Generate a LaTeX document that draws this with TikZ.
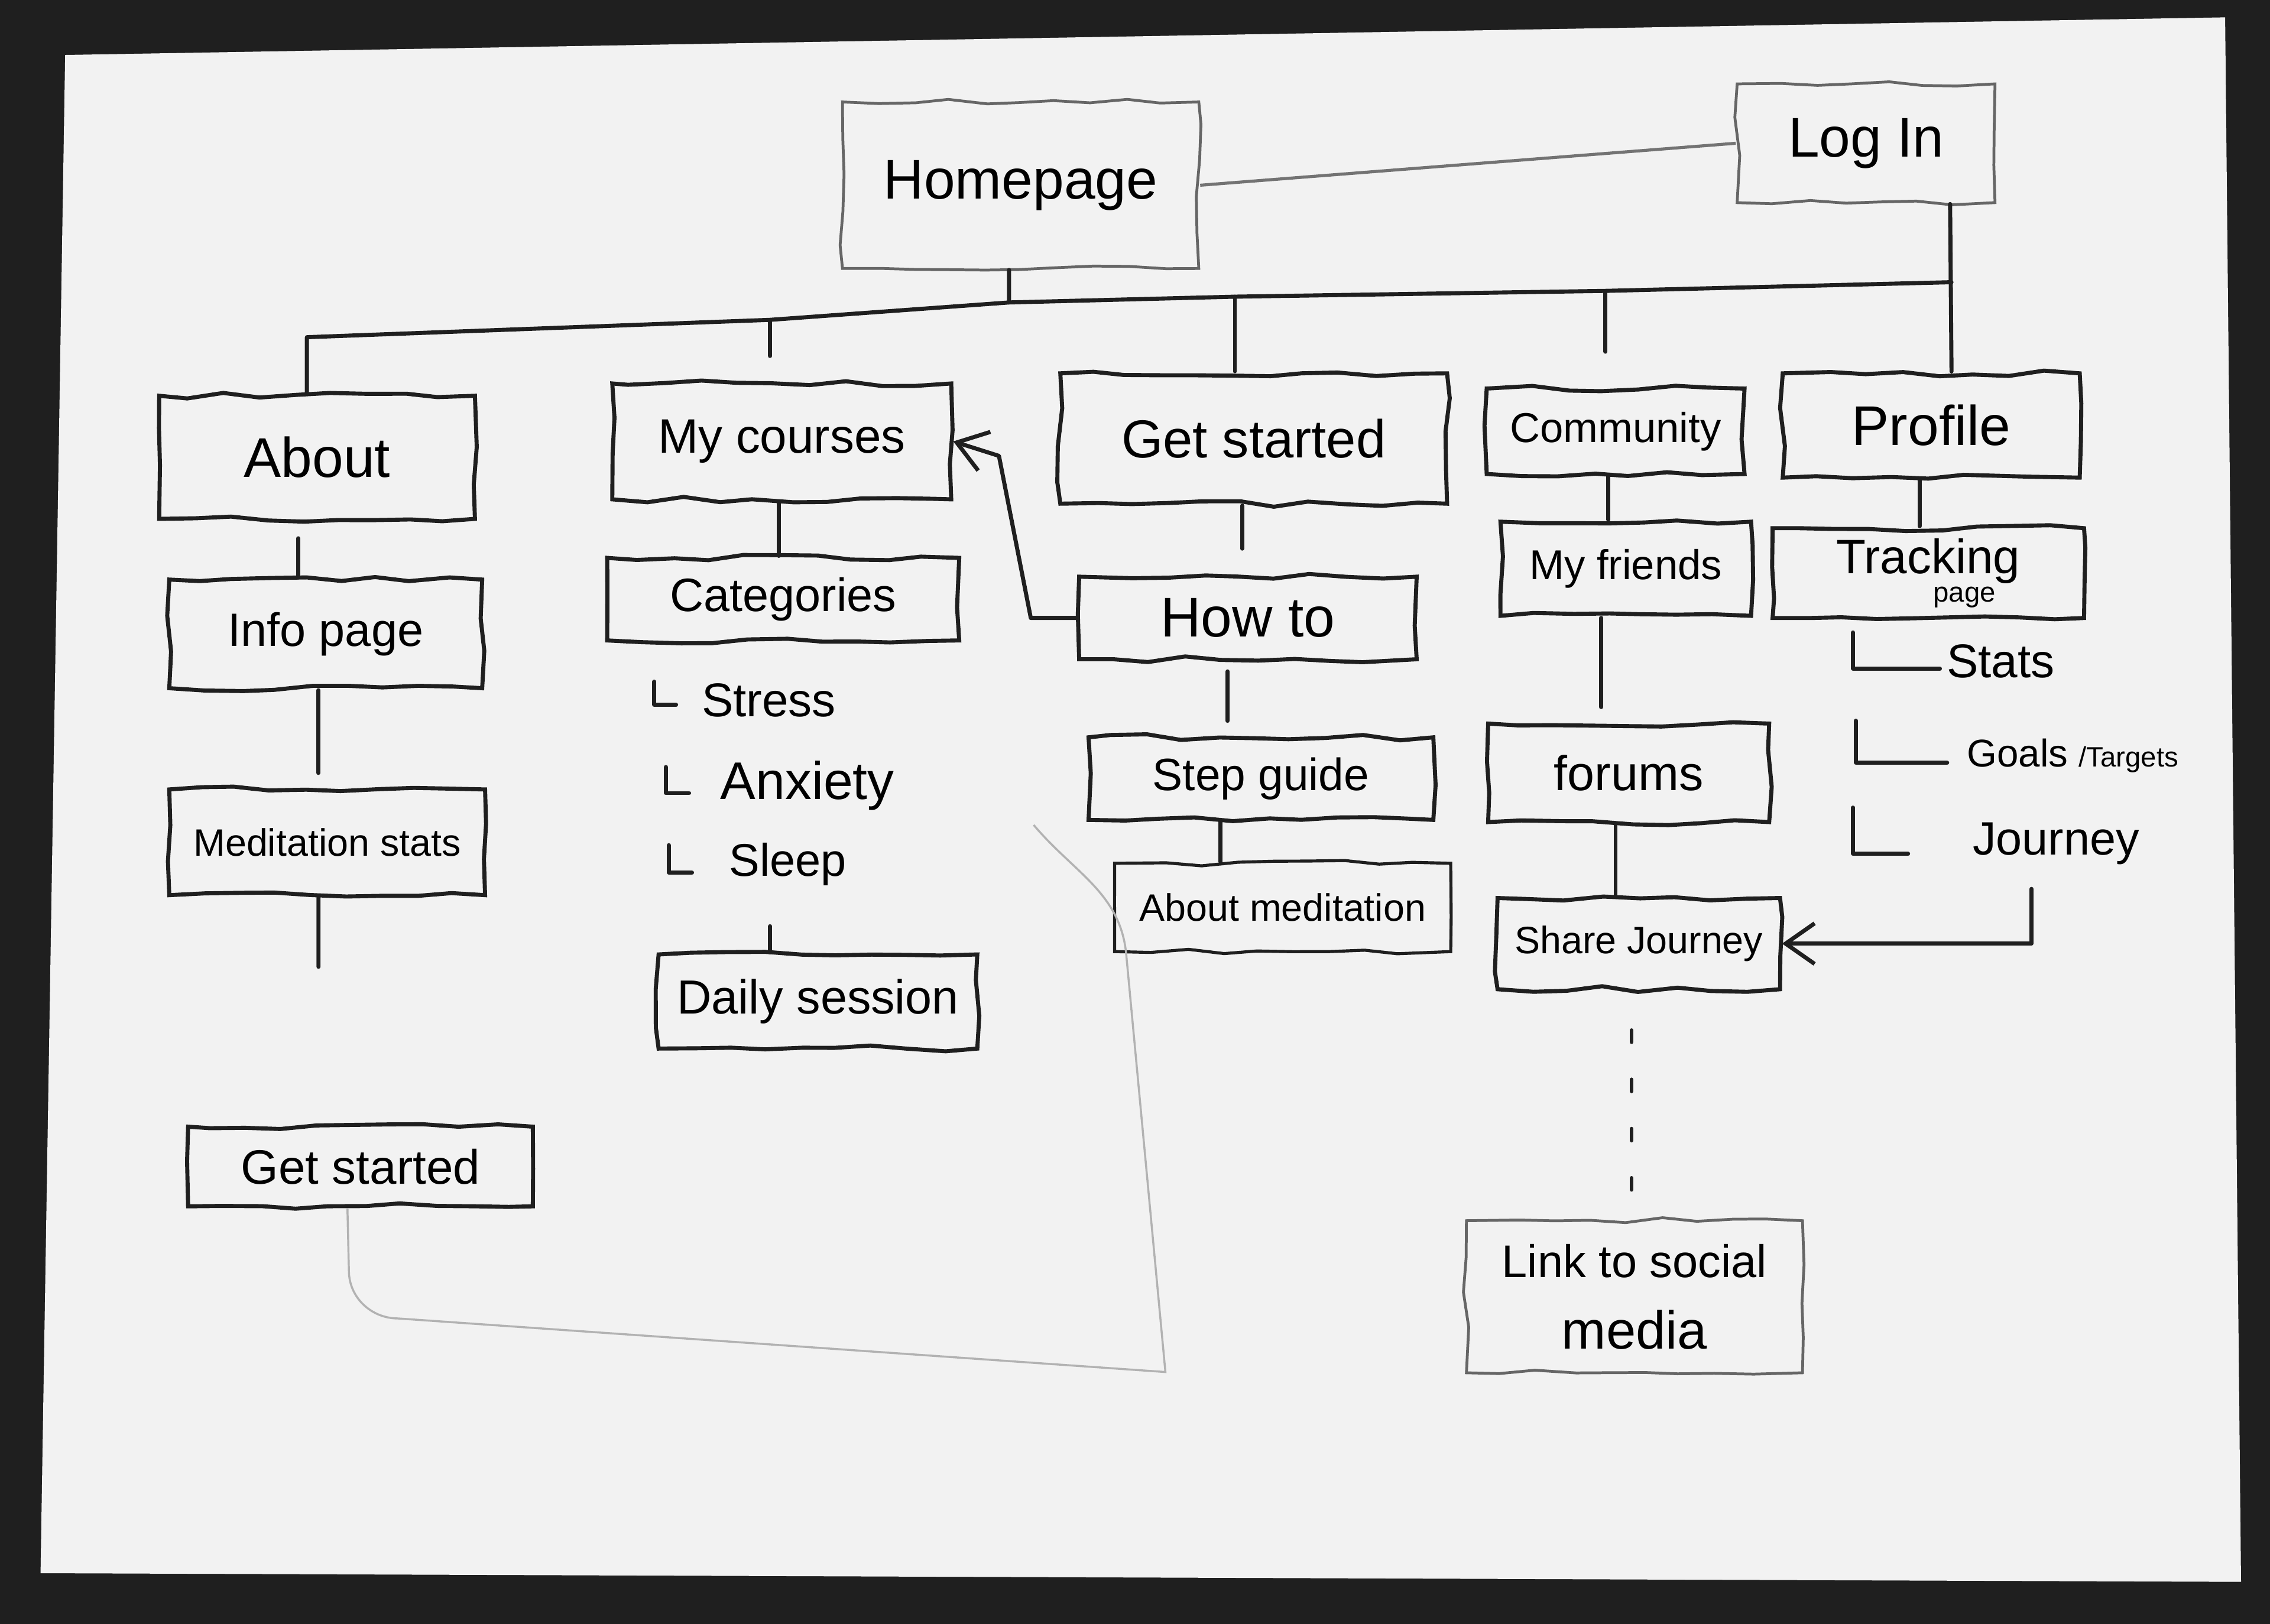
\documentclass[tikz,border=0pt]{standalone}
\usepackage{fontspec}
\setmainfont{Liberation Sans}
\usetikzlibrary{arrows.meta,decorations.pathmorphing}
\newcommand{\hw}[1]{\fontsize{#1}{#1}\selectfont}
\tikzset{
  ink/.style={line width=0.8pt, black!88, line cap=round, line join=round},
  pencil/.style={line width=0.4pt, black!30},
  box/.style={draw=black!88, line width=0.8pt, inner sep=0pt, decorate,
    decoration={random steps, segment length=7pt, amplitude=0.6pt}},
  faintbox/.style={box, draw=black!60, line width=0.55pt},
  item/.style={anchor=west, inner sep=0pt},
  tip/.style={-{Straight Barb[length=2mm, width=2.8mm]}}
}
\begin{document}
\begin{tikzpicture}[x=0.01cm,y=-0.01cm]
  \pgfmathsetseed{11}
  \useasboundingbox (0,0) rectangle (1568,1122);
  % photo backdrop and sheet
  \fill[black!88] (0,0) rectangle (1568,1122);
  \fill[black!5] (45,38) -- (1537,12) -- (1548,1093) -- (28,1087) -- cycle;

  % top level
  \node[faintbox, minimum width=2.46cm, minimum height=1.15cm, font=\hw{11pt}] (home) at (705,128) {Homepage};
  \node[faintbox, minimum width=1.78cm, minimum height=0.82cm, font=\hw{11pt}] (login) at (1289,99) {Log In};
  \node[box, minimum width=2.18cm, minimum height=0.85cm, font=\hw{11pt}] (about) at (219,316) {About};
  \node[box, minimum width=2.34cm, minimum height=0.80cm, font=\hw{9.5pt}] (courses) at (540,305) {My courses};
  \node[box, minimum width=2.67cm, minimum height=0.90cm, font=\hw{10.5pt}] (getstarted) at (866,303) {Get started};
  \node[box, minimum width=1.78cm, minimum height=0.59cm, font=\hw{8.2pt}] (community) at (1116,298) {Community};
  \node[box, minimum width=2.05cm, minimum height=0.72cm, font=\hw{11pt}] (profile) at (1334,294) {Profile};

  % about column
  \node[box, minimum width=2.16cm, minimum height=0.75cm, font=\hw{9.2pt}] (info) at (225,438) {Info page};
  \node[box, minimum width=2.18cm, minimum height=0.73cm, font=\hw{7.5pt}] (medstats) at (226,582) {Meditation stats};
  \node[box, minimum width=2.38cm, minimum height=0.55cm, font=\hw{9.5pt}] (started) at (249,806) {Get started};

  % courses column
  \node[box, minimum width=2.43cm, minimum height=0.57cm, font=\hw{9.2pt}] (categories) at (541,414) {Categories};
  \node[item, font=\hw{9.3pt}] (stress) at (484,484) {Stress};
  \node[item, font=\hw{10.4pt}] (anxiety) at (497,543) {Anxiety};
  \node[item, font=\hw{9pt}] (sleep) at (503,597) {Sleep};
  \node[box, minimum width=2.20cm, minimum height=0.65cm, font=\hw{9.4pt}] (daily) at (565,692) {Daily session};

  % get started column
  \node[box, minimum width=2.33cm, minimum height=0.57cm, font=\hw{11pt}] (howto) at (862,427) {How to};
  \node[box, minimum width=2.38cm, minimum height=0.57cm, font=\hw{8.9pt}] (stepguide) at (871,538) {Step guide};
  \node[box, line width=0.6pt, minimum width=2.32cm, minimum height=0.61cm, font=\hw{7.5pt}] (aboutmed) at (886,627) {About meditation};

  % community column
  \node[box, minimum width=1.73cm, minimum height=0.65cm, font=\hw{8.2pt}] (friends) at (1123,393) {My friends};
  \node[box, minimum width=1.94cm, minimum height=0.68cm, font=\hw{9.6pt}] (forums) at (1125,534) {forums};
  \node[box, minimum width=1.95cm, minimum height=0.63cm, font=\hw{7.5pt}] (share) at (1132,652) {Share Journey};
  \node[faintbox, minimum width=2.32cm, minimum height=1.05cm, font=\hw{9pt}, align=center] (social) at (1129,896) {Link to social\\[5pt]{\hw{10.5pt}media}};

  % profile column
  \node[box, minimum width=2.15cm, minimum height=0.62cm, font=\hw{9.5pt}, align=center] (tracking) at (1332,396) {Tracking\\[-4pt]{\hw{5.5pt}\hspace*{5mm}page}};
  \node[item, font=\hw{9.3pt}] (stats) at (1344,457) {Stats};
  \node[item, font=\hw{7.6pt}] (goals) at (1358,522) {Goals {\hw{5.5pt}/Targets}};
  \node[item, font=\hw{9.2pt}] (journey) at (1362,583) {Journey};

  % bus under the homepage
  \coordinate (bL) at (212,233);
  \coordinate (bC) at (532,221);
  \coordinate (bH) at (697,209);
  \coordinate (bG) at (853,205);
  \coordinate (bM) at (1109,201);
  \coordinate (bR) at (1348,195);
  \coordinate (cstub) at (532,246);
  \coordinate (mstub) at (1109,243);
  \coordinate (astub) at (220,668);
  \coordinate (dstub) at (532,640);
  \coordinate (trail) at (714,570);

  \draw[line width=0.6pt, black!55] (home.east) -- (login.west);
  \draw[ink] ([xshift=-0.8mm]home.south) -- (bH);
  \draw[ink] (bR) -- (bM) -- (bG) -- (bH) -- (bC) -- (bL) -- (bL |- about.north);
  \draw[ink] (bC) -- (cstub);
  \draw[ink] (bG) -- (bG |- getstarted.north);
  \draw[ink] (bM) -- (mstub);
  \draw[ink] ([xshift=5.8mm]login.south) -- ([xshift=1.4mm]profile.north);

  % about column links
  \draw[ink, shorten <=1.2mm] ([xshift=-1.3mm]about.south) -- ([xshift=-1.3mm]about.south |- info.north);
  \draw[ink, shorten >=1mm] ([xshift=-0.5mm]info.south) -- ([xshift=-0.5mm]info.south |- medstats.north);
  \draw[ink] ([xshift=-0.6mm]medstats.south) -- (astub);
  \draw[pencil] ([xshift=-0.9mm]started.south) -- (241,878) to[out=-90,in=180] (275,911) -- (805,948) -- (778,660) to[out=95,in=-50] (trail);

  % courses column links
  \draw[ink] ([xshift=-0.2mm]courses.south) -- ([xshift=-0.2mm]courses.south |- categories.north);
  \foreach \n/\a/\b/\c/\d in {stress/-32/-13/-17/3, anxiety/-37/-13/-21/5, sleep/-41/-13/-25/6,
                              stats/-64/-20/-4/5, goals/-76/-24/-13/5, journey/-82/-25/-44/7}
    {\draw[ink] ([shift={(\a,\b)}]\n.west) |- ([shift={(\c,\d)}]\n.west);}
  \draw[ink] (dstub) -- (dstub |- daily.north);
  \draw[ink, tip] (howto.west) -- ++(-32,0) -- ++(-22,-112) -- (courses.east);

  % get started column links
  \draw[ink, shorten >=1.8mm] ([xshift=-0.8mm]getstarted.south) -- ([xshift=-0.8mm]getstarted.south |- howto.north);
  \draw[ink, shorten <=0.7mm, shorten >=1mm] ([xshift=-1.4mm]howto.south) -- ([xshift=-1.4mm]howto.south |- stepguide.north);
  \draw[ink] ([xshift=-2.8mm]stepguide.south) -- ([xshift=-2.8mm]stepguide.south |- aboutmed.north);

  % community column links
  \draw[ink] ([xshift=-0.5mm]community.south) -- ([xshift=-0.5mm]community.south |- friends.north);
  \draw[ink, shorten >=1mm] ([xshift=-1.7mm]friends.south) -- ([xshift=-1.7mm]friends.south |- forums.north);
  \draw[ink] ([xshift=-0.9mm]forums.south) -- ([xshift=-0.9mm]forums.south |- share.north);
  \draw[ink, dash pattern=on 0.8mm off 2.6mm, shorten <=2.7mm, shorten >=1.8mm] ([xshift=-0.5mm]share.south) -- ([xshift=-0.5mm]share.south |- social.north);

  % profile column links
  \draw[ink] ([xshift=-0.8mm]profile.south) -- ([xshift=-0.8mm]profile.south |- tracking.north);
  \draw[ink, tip] ([shift={(-17,16)}]journey.south) |- (share.east);
\end{tikzpicture}
\end{document}
